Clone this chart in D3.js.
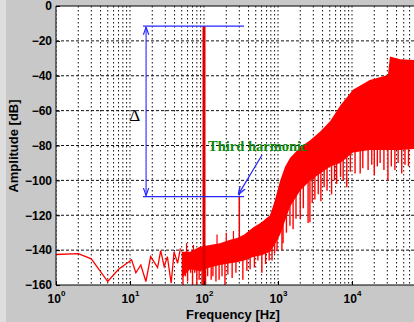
<!DOCTYPE html>
<html>
<head>
<meta charset="utf-8">
<script src="https://cdn.jsdelivr.net/npm/d3@7"></script>
<style>
  body { margin: 0; background: #c8c8c8; }
  text { font-family: Arial, "Liberation Sans", sans-serif; }
</style>
</head>
<body>
<div id="chart"></div>
<script>
// spectrum values (frequency in Hz, amplitude in dB)
const lowFreq = [1, 2, 3, 5, 7, 9.8, 10.5, 12, 14, 16.4, 19, 21, 23.6, 26, 29, 32, 36, 39.4, 44, 48];
const lowAmp = [-142.5, -142, -145, -158, -151, -146.5, -145.5, -153, -148.5, -158, -143.7, -146.6, -150, -140.3, -149.5, -143.7, -159, -141, -147.5, -139];

const bandFreq = [50, 65, 88, 120, 164, 225, 280, 350, 460, 600, 780, 900, 1070, 1250, 1460, 1990, 2720, 3720, 5080, 6950, 10300, 17400, 30600, 32600, 44600, 69000, 100000];
const bandTop = [-141, -141, -138, -137, -136, -134, -133, -131, -127, -124, -120, -112, -100, -92, -87, -81, -77, -72, -66, -57, -48, -42.5, -39.6, -29, -30.5, -31, -31];
const bandBottom = [-156, -151, -152, -150, -148.5, -147.5, -147, -146, -144, -143, -141, -137, -131, -123, -115, -106, -100, -96, -92, -90, -84, -82.6, -82.6, -82.6, -82.6, -82, -82];

// downward spikes below the noise band
const spikeFreq = [52, 56, 60, 66, 70, 75, 80, 86, 94, 98,
  105, 112, 125, 132, 145, 160, 175, 192, 210, 240, 270,
  335, 380, 420, 480, 535, 605, 680, 760, 830, 900, 970,
  1130, 1170, 1300, 1450, 1600, 1750, 2000, 2200, 2550, 2700, 2900, 3150,
  3500, 3800, 4200, 4600, 5300, 5800, 6200, 7000, 7600, 8500, 9500,
  11000, 12900, 14000, 16500, 18500, 20000, 22000, 24000, 27000, 30600, 34000, 38000, 42000, 47000, 52000, 58000];
const spikeAmp = [-160, -155, -158, -153, -160, -153, -160, -157, -160, -158,
  -160, -155, -157, -155, -158, -157, -155, -160, -154, -156, -153,
  -157, -152, -151, -150, -146, -153, -148, -146, -146, -142, -140,
  -140, -136, -130, -126, -128, -122, -122, -116, -124.5, -124, -113, -111,
  -108, -112, -104, -106, -108, -100, -102, -98, -100, -104, -95,
  -96, -96, -93, -94, -91, -97, -92, -90, -94, -100, -92, -94, -90, -96, -91, -92];

// hairs above the band top
const hairFreq = [58, 72, 150, 200, 250];
const hairAmp = [-136, -137, -131, -130, -129];

// fundamental and third harmonic
const fundFreq = 100, fundAmp = -11.5;
const harmFreq = 300, harmAmp = -109.3;
const markFrom = 15, markTo = 348, deltaFreq = 16.5;

const xTicks = [1, 10, 100, 1000, 10000];
const yTicks = [0, -20, -40, -60, -80, -100, -120, -140, -160];

const W = 414, H = 322;
const svg = d3.select("#chart").append("svg").attr("width", W).attr("height", H);

svg.append("rect").attr("width", W).attr("height", H).attr("fill", "#c8c8c8");
svg.append("rect").attr("width", 6).attr("height", H).attr("fill", "#dedede");

const x = d3.scaleLog().domain([1, 1e5]).range([56, 426]);
const y = d3.scaleLinear().domain([-160, 0]).range([285, 6]);

svg.append("rect").attr("x", 56).attr("y", 6).attr("width", W - 56).attr("height", 279).attr("fill", "#fff");

svg.append("clipPath").attr("id", "plot")
  .append("rect").attr("x", 56).attr("y", 6).attr("width", W - 56).attr("height", 279);

const g = svg.append("g").attr("clip-path", "url(#plot)");

// grid
let vLines = [];
for (let k = 0; k < 5; k++) for (let m = 1; m < 10; m++) vLines.push(m * Math.pow(10, k));
g.selectAll(".vg").data(vLines).enter().append("line")
  .attr("x1", d => x(d)).attr("x2", d => x(d)).attr("y1", 6).attr("y2", 285)
  .attr("stroke", "#111").attr("stroke-width", 1).attr("stroke-dasharray", "1.5,2.5");
g.selectAll(".hg").data(yTicks.slice(1, -1)).enter().append("line")
  .attr("x1", 56).attr("x2", W).attr("y1", d => y(d)).attr("y2", d => y(d))
  .attr("stroke", "#111").attr("stroke-width", 1).attr("stroke-dasharray", "3,2");

// label sits under the spectrum in the original
svg.append("text").attr("x", 208).attr("y", 151)
  .attr("font-size", 14.5).attr("font-weight", "bold").attr("fill", "#0c8a0c")
  .style("font-family", "'Liberation Serif', 'DejaVu Serif', serif").text("Third harmonic");

// noise band
const band = bandFreq.map((f, i) => ({ f: f, t: bandTop[i], b: bandBottom[i] }));
g.append("path").datum(band)
  .attr("d", d3.area().x(d => x(d.f)).y0(d => y(d.b)).y1(d => y(d.t)))
  .attr("fill", "#ff0000");

// low frequency trace
const low = lowFreq.map((f, i) => ({ f: f, a: lowAmp[i] }));
g.append("path").datum(low)
  .attr("d", d3.line().x(d => x(d.f)).y(d => y(d.a)))
  .attr("fill", "none").attr("stroke", "#ff0000").attr("stroke-width", 1.3);

// spikes from the band edges
const bottomAt = d3.scaleLog().domain(bandFreq).range(bandBottom);
const topAt = d3.scaleLog().domain(bandFreq).range(bandTop);
g.selectAll(".spike").data(spikeFreq).enter().append("line")
  .attr("x1", d => x(d)).attr("x2", d => x(d))
  .attr("y1", d => y(bottomAt(d) + 2))
  .attr("y2", (d, i) => y(spikeAmp[i]))
  .attr("stroke", "#ff0000").attr("stroke-width", 1.4);
g.selectAll(".hair").data(hairFreq).enter().append("line")
  .attr("x1", d => x(d)).attr("x2", d => x(d))
  .attr("y1", d => y(topAt(d) - 2))
  .attr("y2", (d, i) => y(hairAmp[i]))
  .attr("stroke", "#ff0000").attr("stroke-width", 1.2);

// fundamental + harmonic
g.append("line").attr("x1", x(fundFreq)).attr("x2", x(fundFreq))
  .attr("y1", y(fundAmp)).attr("y2", 285)
  .attr("stroke", "#dd0000").attr("stroke-width", 3);
g.append("line").attr("x1", x(harmFreq)).attr("x2", x(harmFreq))
  .attr("y1", y(harmAmp)).attr("y2", y(-134))
  .attr("stroke", "#ee0000").attr("stroke-width", 1.5);

// annotations
const blue = "#2626ff";
const defs = svg.append("defs");
defs.append("marker").attr("id", "ah").attr("viewBox", "0 0 10 10")
  .attr("refX", 10).attr("refY", 5).attr("markerWidth", 7).attr("markerHeight", 7)
  .attr("orient", "auto-start-reverse")
  .append("path").attr("d", "M0,1.5 L10,5 L0,8.5").attr("fill", "none").attr("stroke", blue).attr("stroke-width", 1.5);

[fundAmp, harmAmp].forEach(a => {
  g.append("line").attr("x1", x(markFrom)).attr("x2", x(markTo))
    .attr("y1", y(a)).attr("y2", y(a)).attr("stroke", blue).attr("stroke-width", 1.3);
});
g.append("line").attr("x1", x(deltaFreq)).attr("x2", x(deltaFreq))
  .attr("y1", y(fundAmp) + 1).attr("y2", y(harmAmp) - 1)
  .attr("stroke", blue).attr("stroke-width", 1.1)
  .attr("marker-start", "url(#ah)").attr("marker-end", "url(#ah)");
svg.append("text").attr("x", x(deltaFreq) - 6).attr("y", 121)
  .attr("text-anchor", "end").attr("font-size", 17)
  .style("font-family", "'Liberation Serif', 'DejaVu Serif', serif").text("\u0394");

g.append("line").attr("x1", 262).attr("y1", 155)
  .attr("x2", x(harmFreq) - 1).attr("y2", y(harmAmp) - 2)
  .attr("stroke", blue).attr("stroke-width", 1.2).attr("marker-end", "url(#ah)");

// axes
const yAxis = svg.append("g").attr("transform", "translate(56,0)")
  .call(d3.axisLeft(y).tickValues(yTicks).tickSize(-4).tickPadding(4).tickFormat(d3.format("d")));
const xAxis = svg.append("g").attr("transform", "translate(0,285)")
  .call(d3.axisBottom(x).tickValues(xTicks).tickSize(-4).tickFormat(""));
[yAxis, xAxis].forEach(a => {
  a.select(".domain").remove();
  a.selectAll("line").attr("stroke", "#000");
});
yAxis.selectAll("text").attr("font-size", 12).attr("font-weight", "bold")
  .attr("fill", "#000").style("font-family", "Arial, 'Liberation Sans', sans-serif");

xAxis.selectAll(".tick").each(function (d) {
  const t = d3.select(this).append("text").attr("y", 18).attr("text-anchor", "middle")
    .attr("fill", "#000").attr("font-weight", "bold")
    .style("font-family", "Arial, 'Liberation Sans', sans-serif");
  t.append("tspan").attr("font-size", 12).text("10");
  t.append("tspan").attr("font-size", 8).attr("dy", -7).text(Math.round(Math.log10(d)));
});

svg.append("line").attr("x1", 56).attr("x2", 56).attr("y1", 6).attr("y2", 285).attr("stroke", "#000");
svg.append("line").attr("x1", 56).attr("x2", W).attr("y1", 285).attr("y2", 285).attr("stroke", "#000");
svg.append("line").attr("x1", 56).attr("x2", W).attr("y1", 6).attr("y2", 6).attr("stroke", "#000");

svg.append("text").attr("x", 233).attr("y", 319).attr("text-anchor", "middle")
  .attr("font-size", 13).attr("font-weight", "bold").text("Frequency [Hz]");
svg.append("text").attr("transform", "translate(18,146) rotate(-90)").attr("text-anchor", "middle")
  .attr("font-size", 13).attr("font-weight", "bold").text("Amplitude [dB]");
</script>
</body>
</html>
